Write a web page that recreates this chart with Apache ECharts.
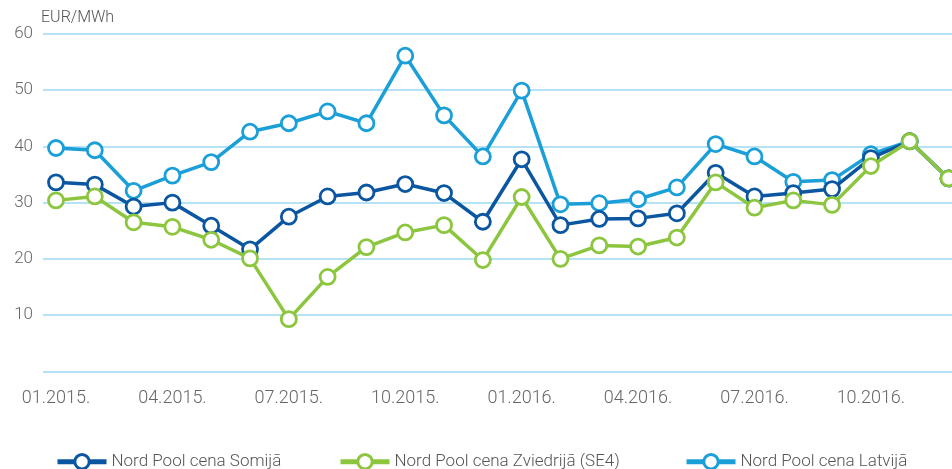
<!DOCTYPE html>
<html><head><meta charset="utf-8">
<script src="https://cdn.jsdelivr.net/npm/echarts@6/dist/echarts.min.js"></script>
<style>html,body{margin:0;padding:0;background:#fff}#c{width:952px;height:469px}</style>
</head><body><div id="c"></div>
<script>
const months = ['01.2015.','02.2015.','03.2015.','04.2015.','05.2015.','06.2015.','07.2015.','08.2015.','09.2015.','10.2015.','11.2015.','12.2015.',
  '01.2016.','02.2016.','03.2016.','04.2016.','05.2016.','06.2016.','07.2016.','08.2016.','09.2016.','10.2016.','11.2016.','12.2016.'];
const tickIndexes = [0,3,6,9,12,15,18,21];
const yTicks = [10,20,30,40,50,60];
const finland = [33.6,33.2,29.3,30.0,25.9,21.7,27.5,31.1,31.8,33.3,31.7,26.6,37.7,26.0,27.1,27.2,28.1,35.3,31.1,31.7,32.4,37.9,40.9,34.3];
const sweden  = [30.4,31.1,26.5,25.7,23.4,20.1,9.3,16.8,22.1,24.7,26.0,19.8,31.0,20.0,22.4,22.2,23.8,33.6,29.1,30.4,29.6,36.5,40.9,34.3];
const latvia  = [39.7,39.3,32.1,34.8,37.2,42.6,44.1,46.2,44.1,56.1,45.5,38.2,49.9,29.7,29.9,30.6,32.7,40.4,38.2,33.7,34.0,38.6,40.9,34.3];
const names = ['Nord Pool cena Somijā','Nord Pool cena Zviedrijā (SE4)','Nord Pool cena Latvijā'];
const colors = ['#0b56a0','#8cc63f','#1a9fd9'];
const FONT = 'Roboto';
const gridColor = '#b6e2f6';

function pts(arr){ return arr.map((v,i)=>[i,v]); }
function mkSeries(name, data, color, z){
  return {name, type:'line', data: pts(data), z,
    symbol:'circle', symbolSize:15,
    lineStyle:{color, width:3.5},
    itemStyle:{color:'#fff', borderColor:color, borderWidth:2.8},
    emphasis:{disabled:true}, animation:false};
}
function mkLegend(left, idx){
  return {left, top:448, itemWidth:49, itemHeight:18, itemGap:0, selectedMode:false,
    data:[{name:names[idx], lineStyle:{width:5, color:colors[idx]}, itemStyle:{color:'#fff', borderColor:colors[idx], borderWidth:3}}],
    textStyle:{fontFamily:FONT, fontSize:17, color:'#555', fontWeight:300}};
}

const chart = echarts.init(document.getElementById('c'), null, {renderer:'canvas'});
chart.setOption({
  animation:false,
  textStyle:{fontFamily:FONT},
  title:{text:'EUR/MWh', left:41, top:10, padding:0, textStyle:{fontFamily:FONT, fontSize:16, fontWeight:300, color:'#555'}},
  legend:[ mkLegend(50,0), mkLegend(333,1), mkLegend(679,2) ],
  grid:{left:43, right:0, top:33.75, bottom:97.5, containLabel:false},
  xAxis:{type:'value', min:-0.335, max:23.09,
    axisLine:{show:false}, axisTick:{show:false}, splitLine:{show:false},
    axisLabel:{customValues: tickIndexes, formatter: v => months[Math.round(v)] || '',
      fontFamily:FONT, fontSize:18, fontWeight:300, color:'#666', margin:18}},
  yAxis:{type:'value', min:0, max:60, interval:10,
    axisLine:{show:false}, axisTick:{show:false},
    splitLine:{lineStyle:{color:gridColor, width:2}},
    axisLabel:{formatter: v => yTicks.includes(v) ? String(v) : '',
      fontFamily:FONT, fontSize:17, fontWeight:300, color:'#666', margin:10}},
  series:[
    mkSeries(names[0], finland, colors[0], 3),
    mkSeries(names[1], sweden, colors[1], 4),
    mkSeries(names[2], latvia, colors[2], 2)
  ]
});
</script></body></html>
